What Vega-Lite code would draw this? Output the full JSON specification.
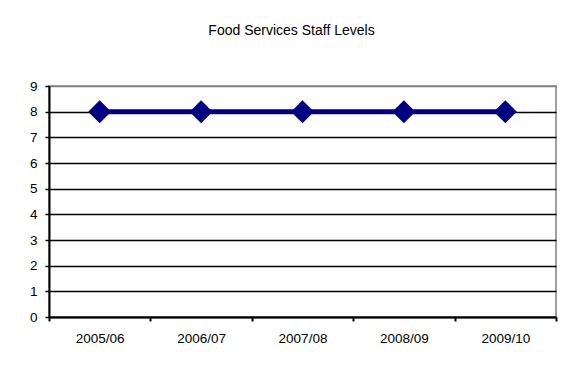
{
  "$schema": "https://vega.github.io/schema/vega-lite/v6.json",
  "width": 507,
  "height": 231,
  "autosize": {"type": "none"},
  "padding": {"left": 49, "top": 86, "right": 13, "bottom": 53},
  "background": "white",
  "title": {
    "text": "Food Services Staff Levels",
    "font": "Liberation Sans",
    "fontSize": 14,
    "fontWeight": "normal",
    "color": "black",
    "anchor": "middle",
    "dx": -11,
    "offset": 41
  },
  "config": {
    "view": {"stroke": "#808080", "strokeWidth": 1.5},
    "font": "Liberation Sans"
  },
  "data": {
    "values": [
      {"year": "2005/06", "staff": 8},
      {"year": "2006/07", "staff": 8},
      {"year": "2007/08", "staff": 8},
      {"year": "2008/09", "staff": 8},
      {"year": "2009/10", "staff": 8}
    ]
  },
  "encoding": {
    "x": {
      "field": "year",
      "type": "ordinal",
      "bandPosition": 0.5,
      "scale": {"type": "band", "paddingInner": 0, "paddingOuter": 0},
      "axis": {
        "title": null,
        "labelAngle": 0,
        "labelFont": "Liberation Sans",
        "labelFontSize": 13.5,
        "labelColor": "black",
        "labelPadding": 10,
        "tickBand": "extent",
        "tickColor": "black",
        "tickSize": 4,
        "tickWidth": 2,
        "domainColor": "black",
        "domainWidth": 2,
        "grid": false
      }
    },
    "y": {
      "field": "staff",
      "type": "quantitative",
      "scale": {"domain": [0, 9], "nice": false},
      "axis": {
        "title": null,
        "values": [0, 1, 2, 3, 4, 5, 6, 7, 8, 9],
        "labelFont": "Liberation Sans",
        "labelFontSize": 13.5,
        "labelColor": "black",
        "labelPadding": 8,
        "tickColor": "black",
        "tickSize": 4,
        "tickWidth": 1.5,
        "domainColor": "black",
        "domainWidth": 2,
        "grid": true,
        "gridColor": {"condition": {"test": "datum.value === 9", "value": "#808080"}, "value": "black"},
        "gridWidth": 1.5,
        "gridOpacity": 1
      }
    }
  },
  "layer": [
    {"mark": {"type": "line", "color": "#000080", "strokeWidth": 5}},
    {"mark": {"type": "point", "shape": "diamond", "size": 530, "filled": true, "color": "#000080", "opacity": 1}}
  ]
}
